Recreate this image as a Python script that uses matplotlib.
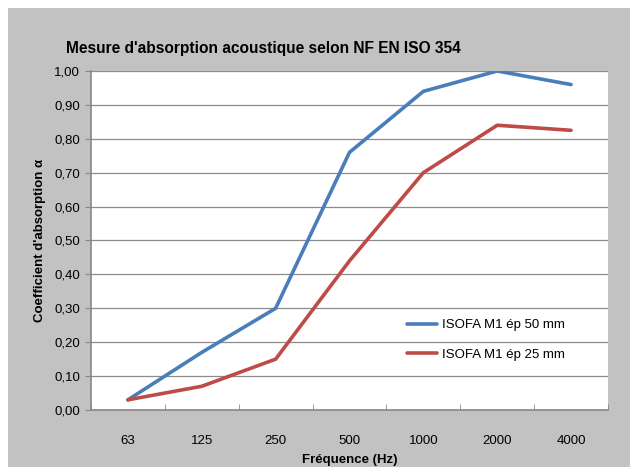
import matplotlib
matplotlib.use('Agg')
import matplotlib.pyplot as plt
from matplotlib.patches import Rectangle
from matplotlib.ticker import FixedLocator, MultipleLocator

plt.rcParams['font.family'] = ['Liberation Sans Narrow', 'Liberation Sans', 'DejaVu Sans']

freqs = ['63', '125', '250', '500', '1000', '2000', '4000']
alpha_50 = [0.03, 0.17, 0.30, 0.76, 0.94, 1.00, 0.96]
alpha_25 = [0.03, 0.07, 0.15, 0.44, 0.70, 0.84, 0.825]
labels = ['ISOFA M1 ép 50 mm', 'ISOFA M1 ép 25 mm']

BG = '#c2c2c2'
BLUE = '#4a7ebb'
RED = '#be4b48'

fig = plt.figure(figsize=(6.3, 4.67), dpi=100, facecolor='white')
fig.patches.append(Rectangle((8 / 630, 0), 1, 1 - 8 / 467,
                             transform=fig.transFigure,
                             facecolor=BG, edgecolor='none', zorder=-1))

ax = fig.add_axes([91 / 630, 1 - 410 / 467, 517 / 630, 339 / 467])
ax.set_facecolor('white')

x = range(len(freqs))
ax.plot(x, alpha_50, color=BLUE, lw=2.6, label=labels[0], solid_capstyle='round')
ax.plot(x, alpha_25, color=RED, lw=2.6, label=labels[1], solid_capstyle='round')

ax.set_xlim(-0.5, len(freqs) - 0.5)
ax.set_ylim(0, 1)
ax.set_xticks(list(x))
ax.set_xticklabels(freqs, fontsize=9.5)
ax.xaxis.set_minor_locator(FixedLocator([i - 0.5 for i in range(len(freqs) + 1)]))
ax.tick_params(axis='x', which='major', length=0, pad=18)
ax.tick_params(axis='x', which='minor', length=4, color='#888888', direction='in')
ax.yaxis.set_major_locator(MultipleLocator(0.1))
ax.set_yticklabels([f'{v:.2f}'.replace('.', ',') for v in ax.get_yticks()], fontsize=9.5)
ax.tick_params(axis='y', length=4, color='#888888', pad=4)
ax.grid(axis='y', color='#8c8c8c', lw=0.9)
ax.set_axisbelow(True)

for side in ['top', 'right']:
    ax.spines[side].set_visible(False)
for side in ['left', 'bottom']:
    ax.spines[side].set_color('#888888')
    ax.spines[side].set_linewidth(1.2)

ax.set_ylabel("Coefficient d'absorption α", fontsize=9.5, fontweight='bold', labelpad=6)
ax.set_xlabel('Fréquence (Hz)', fontsize=9.5, fontweight='bold', labelpad=5)

leg = ax.legend(loc='lower right', bbox_to_anchor=(0.94, 0.11), frameon=False,
                fontsize=9.5, handlelength=2.3, handletextpad=0.4, labelspacing=1.3)

fig.text(66 / 630, 1 - 48 / 467, "Mesure d'absorption acoustique selon NF EN ISO 354",
         fontsize=11.2, fontweight='bold', va='center', ha='left')

fig.savefig('out.png', dpi=100, facecolor=fig.get_facecolor())
